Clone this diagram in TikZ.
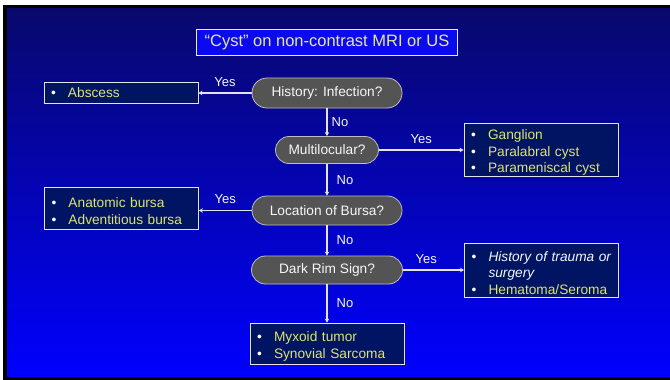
\documentclass[tikz,border=0pt]{standalone}
\usepackage{fontspec}
\setmainfont{Liberation Sans}
\usetikzlibrary{shapes.misc,arrows.meta}
\definecolor{bgtop}{RGB}{8,8,108}
\definecolor{bgbot}{RGB}{0,0,255}
\definecolor{boxfill}{RGB}{0,20,100}
\definecolor{itemtxt}{RGB}{222,228,110}
\definecolor{titletxt}{RGB}{232,232,150}
\definecolor{titlefill}{RGB}{10,10,240}
\definecolor{qfill}{RGB}{84,84,84}
\definecolor{linecol}{RGB}{228,228,240}
\newcommand{\itm}[1]{\makebox[17pt][l]{\color{white}\textbullet}{#1}}
\newcommand{\fst}{\rule{0pt}{16pt}}
\tikzset{
  every node/.style={font=\fontsize{13.7}{16.7}\selectfont},
  question/.style={rounded rectangle, draw=gray!50, line width=0.8pt, fill=qfill, text=white!94!gray, inner sep=0pt},
  listbox/.style={rectangle, draw=white!80!gray, line width=0.8pt, fill=boxfill, text=itemtxt, minimum width=154pt, text width=140pt, align=left, inner xsep=7pt, inner ysep=0pt},
  conn/.style={draw=linecol, line width=1.3pt, -{Stealth[length=4pt,width=4.5pt]}},
  lbl/.style={text=white!94!gray, font=\fontsize{13}{15}\selectfont, inner sep=1pt}
}
\begin{document}
\begin{tikzpicture}[x=1pt,y=-1pt]
\useasboundingbox (0,0) rectangle (670,380);
\fill[white] (0,0) rectangle (670,380);
\fill[black] (3,5) rectangle (670,380);
\shade[top color=bgtop, bottom color=bgbot] (7,8) rectangle (670,376);

\node[rectangle, draw=white!85!gray, line width=0.8pt, fill=titlefill, text=titletxt, minimum width=261pt, minimum height=26pt, inner sep=0pt, font=\fontsize{16.5}{18}\selectfont] (title) at (327,42.5) {“Cyst” on non-contrast MRI or US};

\node[question, minimum width=150pt, minimum height=30pt] (q1) at (327,93) {History: Infection?};
\node[question, minimum width=103pt, minimum height=27pt] (q2) at (327,150) {Multilocular?};
\node[question, minimum width=150pt, minimum height=29pt] (q3) at (327,210.5) {Location of Bursa?};
\node[question, minimum width=151pt, minimum height=28pt] (q4) at (327,270) {Dark Rim Sign?};

\node[listbox, minimum height=21pt] (abs) at (121,92.5) {\itm{Abscess}};
\node[listbox, minimum height=53pt] (gang) at (541,149.5) {\fst\itm{Ganglion}\\\itm{Paralabral cyst}\\\itm{Parameniscal cyst}};
\node[listbox, minimum height=42pt] (bursa) at (121.5,208) {\fst\itm{Anatomic bursa}\\\itm{Adventitious bursa}};
\node[listbox, minimum height=54pt] (trauma) at (541.5,270) {\fst\itm{\color{white!94!gray}\itshape History of trauma or}\\\hspace*{17pt}{\color{white!94!gray}\itshape surgery}\\\itm{Hematoma/Seroma}};
\node[listbox, minimum height=41pt] (myx) at (327,343.5) {\fst\itm{Myxoid tumor}\\\itm{Synovial Sarcoma}};

\draw[conn] (q1.west) -- node[lbl, midway, above=5pt] (y1) {Yes} (q1.west -| abs.east);
\draw[conn] (q1.south) -- node[lbl, midway, right=3pt] (n1) {No} (q2.north);
\draw[conn] (q2.east) -- node[lbl, midway, above=5pt] (y2) {Yes} (q2.east -| gang.west);
\draw[conn] (q2.south) -- node[lbl, midway, right=8pt] (n2) {No} (q3.north);
\draw[conn] (q3.west) -- node[lbl, midway, above=5pt] (y3) {Yes} (q3.west -| bursa.east);
\draw[conn] (q3.south) -- node[lbl, midway, right=8pt] (n3) {No} (q4.north);
\draw[conn] (q4.east) -- node[lbl, pos=0.38, above=5pt] (y4) {Yes} (q4.east -| trauma.west);
\draw[conn] (q4.south) -- node[lbl, midway, right=8pt] (n4) {No} (myx.north);
\end{tikzpicture}
\end{document}
